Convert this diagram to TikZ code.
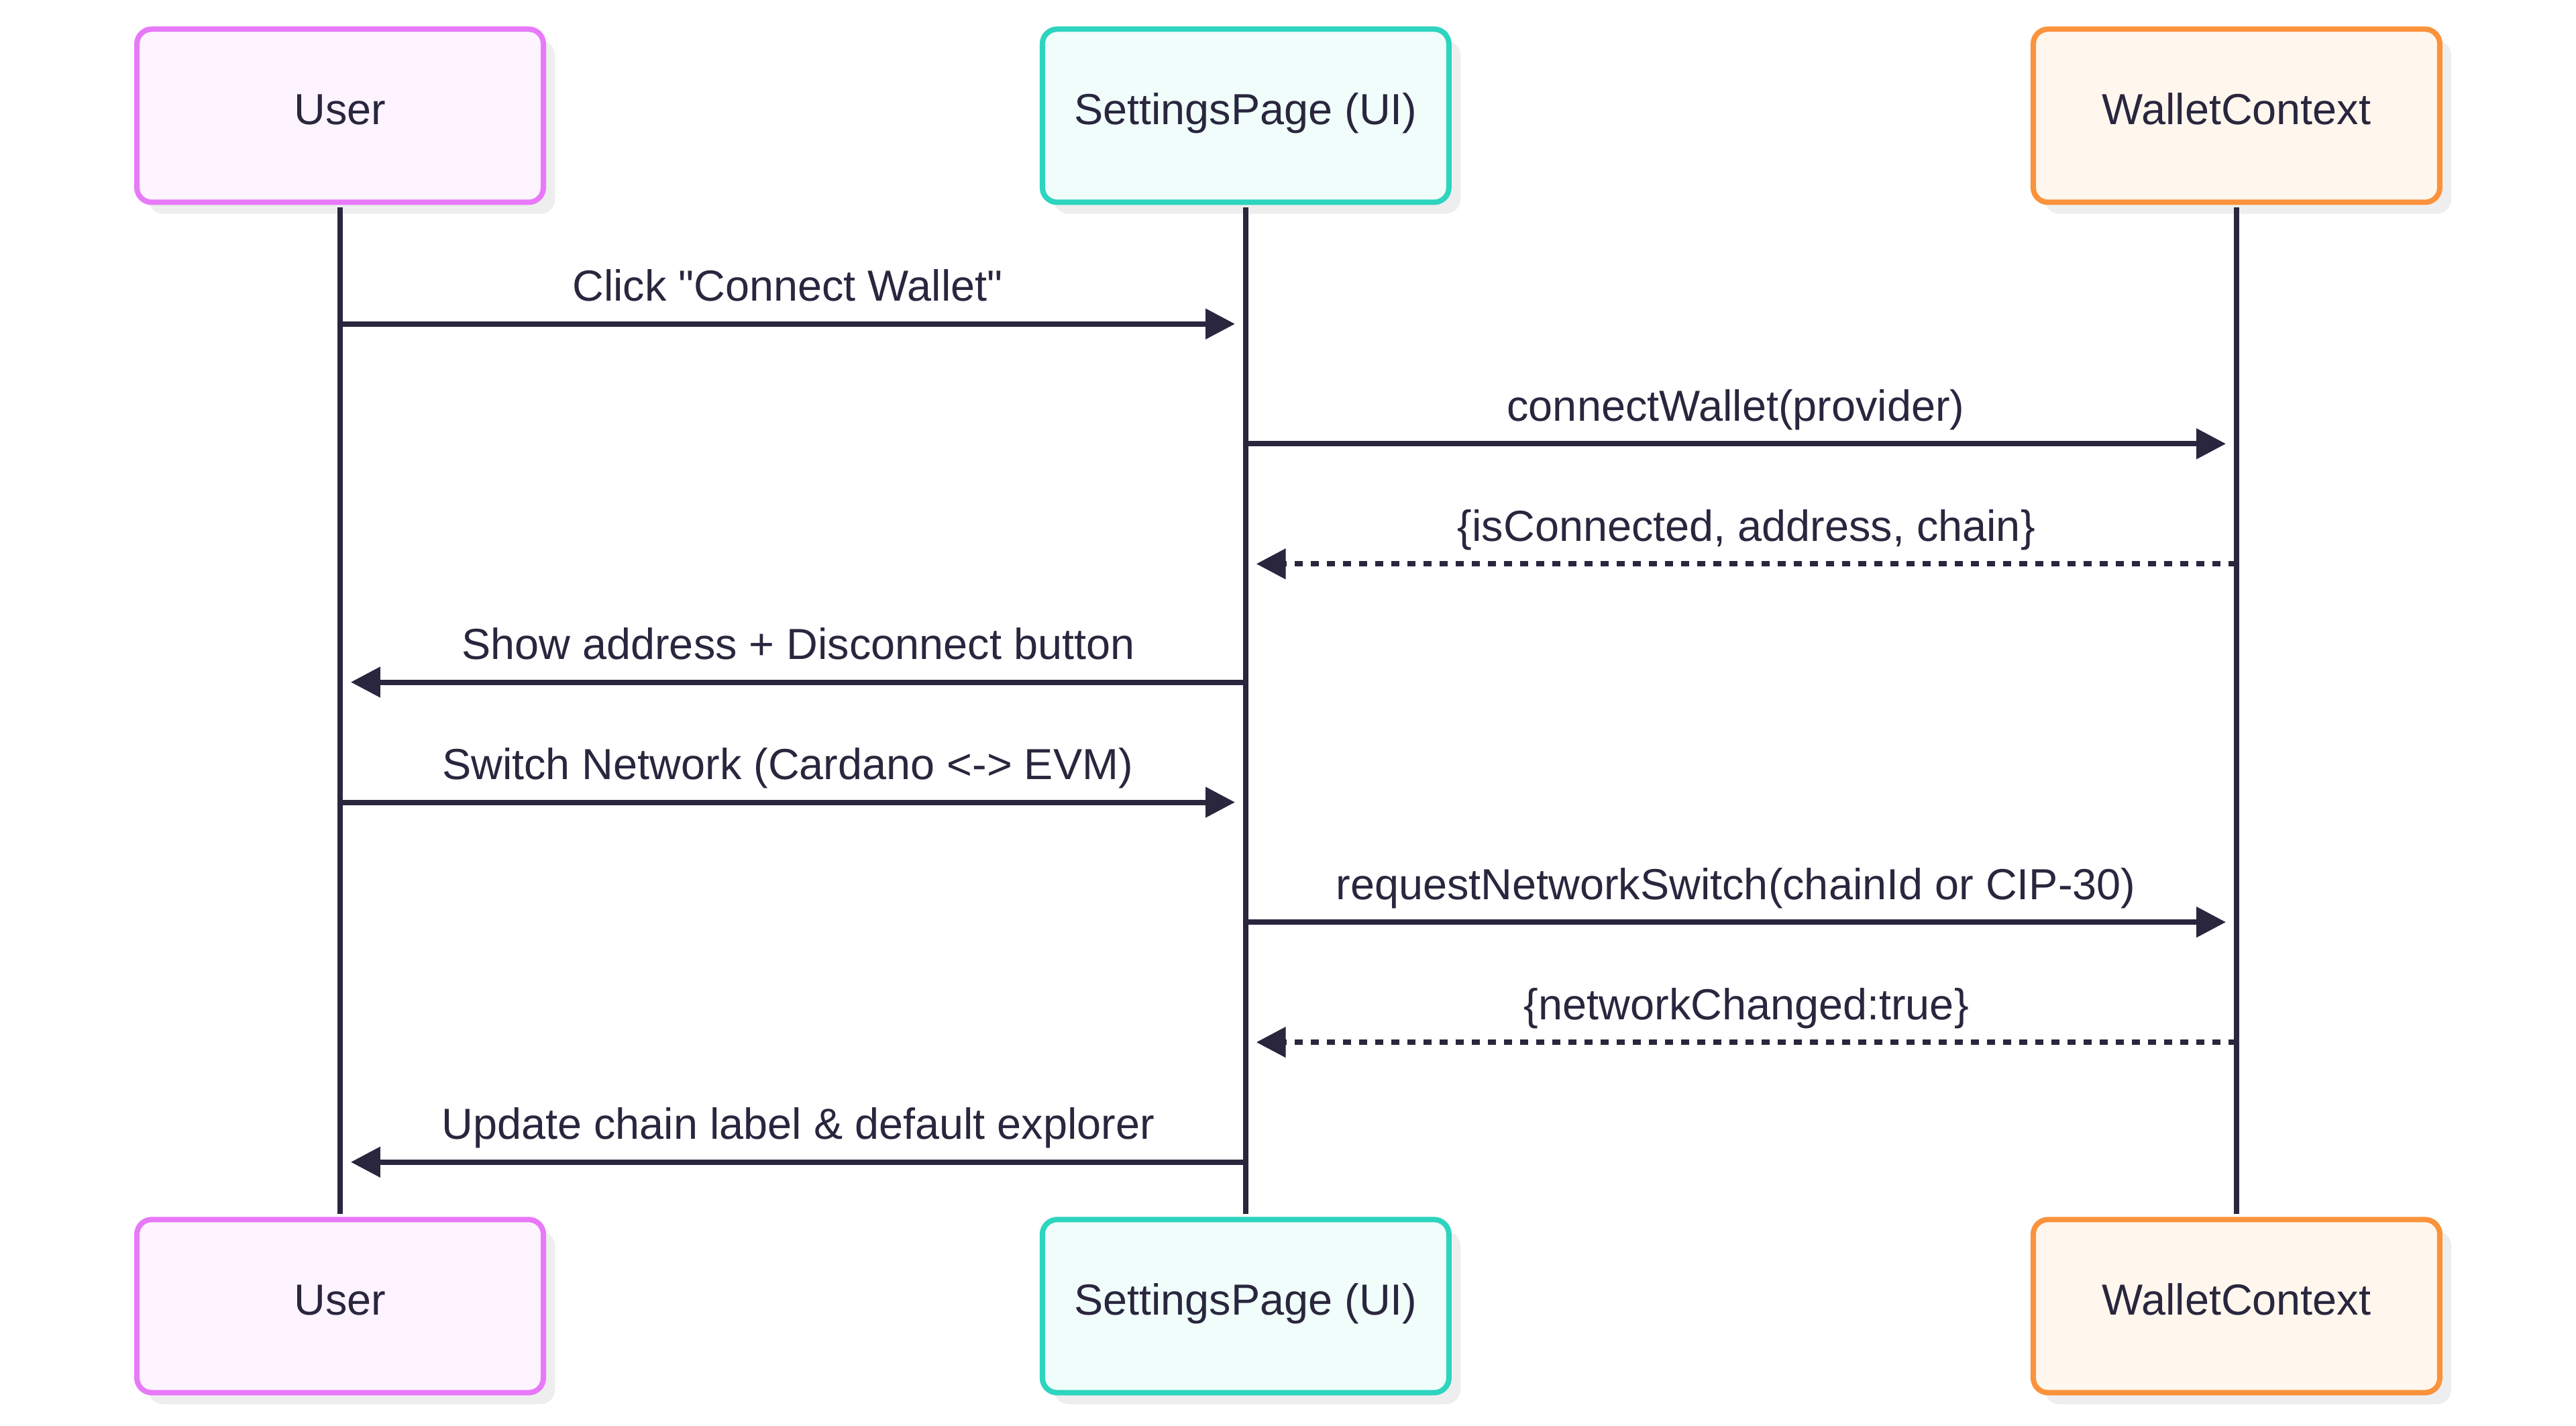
\documentclass[tikz,border=0pt]{standalone}
\usepackage{fontspec}
\setmainfont{Liberation Sans}[Ligatures=TeXOff]
\usetikzlibrary{arrows.meta,shadows}
\definecolor{ink}{RGB}{41,38,62}
\definecolor{shadowgray}{RGB}{238,238,238}
\definecolor{userB}{HTML}{E879F9}
\definecolor{userF}{HTML}{FDF4FF}
\definecolor{setB}{HTML}{2DD4BF}
\definecolor{setF}{HTML}{F0FDFA}
\definecolor{walB}{HTML}{FB923C}
\definecolor{walF}{HTML}{FFF7ED}
\begin{document}
\begin{tikzpicture}[x=0.99pt,y=-0.99pt,
  font=\fontsize{16.2}{19}\selectfont, text=ink,
  actor/.style={rounded corners=5.5pt, line width=2pt, minimum width=151.5pt,
    minimum height=64.5pt, inner sep=0pt, text height=11.6pt, text depth=5pt,
    drop shadow={shadow xshift=4.3pt, shadow yshift=-4.3pt, fill=shadowgray, opacity=1}},
  userbox/.style={actor, draw=userB, fill=userF},
  setbox/.style={actor, draw=setB, fill=setF},
  walbox/.style={actor, draw=walB, fill=walF},
  life/.style={draw=ink, line width=2pt, shorten <=1pt, shorten >=1pt},
  msg/.style={draw=ink, line width=2pt, -{Triangle[length=11pt,width=11pt]}},
  reply/.style={msg, dash pattern=on 3pt off 3pt},
  lab/.style={midway, anchor=base, yshift=8.5pt, inner sep=0pt}]
\useasboundingbox (0,0) rectangle (969.7,536.6);
\fill[white] (0,0) rectangle (969.7,536.6);

% actors
\node[userbox] (u1) at (128.05,43.55) {User};
\node[setbox]  (s1) at (468.9,43.55) {SettingsPage (UI)};
\node[walbox]  (w1) at (841.9,43.55) {WalletContext};
\node[userbox] (u2) at (128.05,491.5) {User};
\node[setbox]  (s2) at (468.9,491.5) {SettingsPage (UI)};
\node[walbox]  (w2) at (841.9,491.5) {WalletContext};

% lifelines
\draw[life] (u1.south) -- (u2.north);
\draw[life] (s1.south) -- (s2.north);
\draw[life] (w1.south) -- (w2.north);

% message end points
\coordinate (aS) at (128.05,121.9); \coordinate (aE) at (464.9,121.9);
\coordinate (bS) at (468.9,167.0);  \coordinate (bE) at (837.9,167.0);
\coordinate (cS) at (841.9,212.2);  \coordinate (cE) at (472.9,212.2);
\coordinate (dS) at (468.9,256.7);  \coordinate (dE) at (132.05,256.7);
\coordinate (eS) at (128.05,301.9); \coordinate (eE) at (464.9,301.9);
\coordinate (fS) at (468.9,347.0);  \coordinate (fE) at (837.9,347.0);
\coordinate (gS) at (841.9,392.2);  \coordinate (gE) at (472.9,392.2);
\coordinate (hS) at (468.9,437.3);  \coordinate (hE) at (132.05,437.3);

% messages
\draw[msg] (aS) -- node[lab] {Click "Connect Wallet"} (aE);
\draw[msg] (bS) -- node[lab] {connectWallet(provider)} (bE);
\draw[reply] (cS) -- node[lab] {\{isConnected, address, chain\}} (cE);
\draw[msg] (dS) -- node[lab] {Show address + Disconnect button} (dE);
\draw[msg] (eS) -- node[lab] {Switch Network (Cardano <-> EVM)} (eE);
\draw[msg] (fS) -- node[lab] {requestNetworkSwitch(chainId or CIP-30)} (fE);
\draw[reply] (gS) -- node[lab] {\{networkChanged:true\}} (gE);
\draw[msg] (hS) -- node[lab] {Update chain label \& default explorer} (hE);
\end{tikzpicture}
\end{document}
